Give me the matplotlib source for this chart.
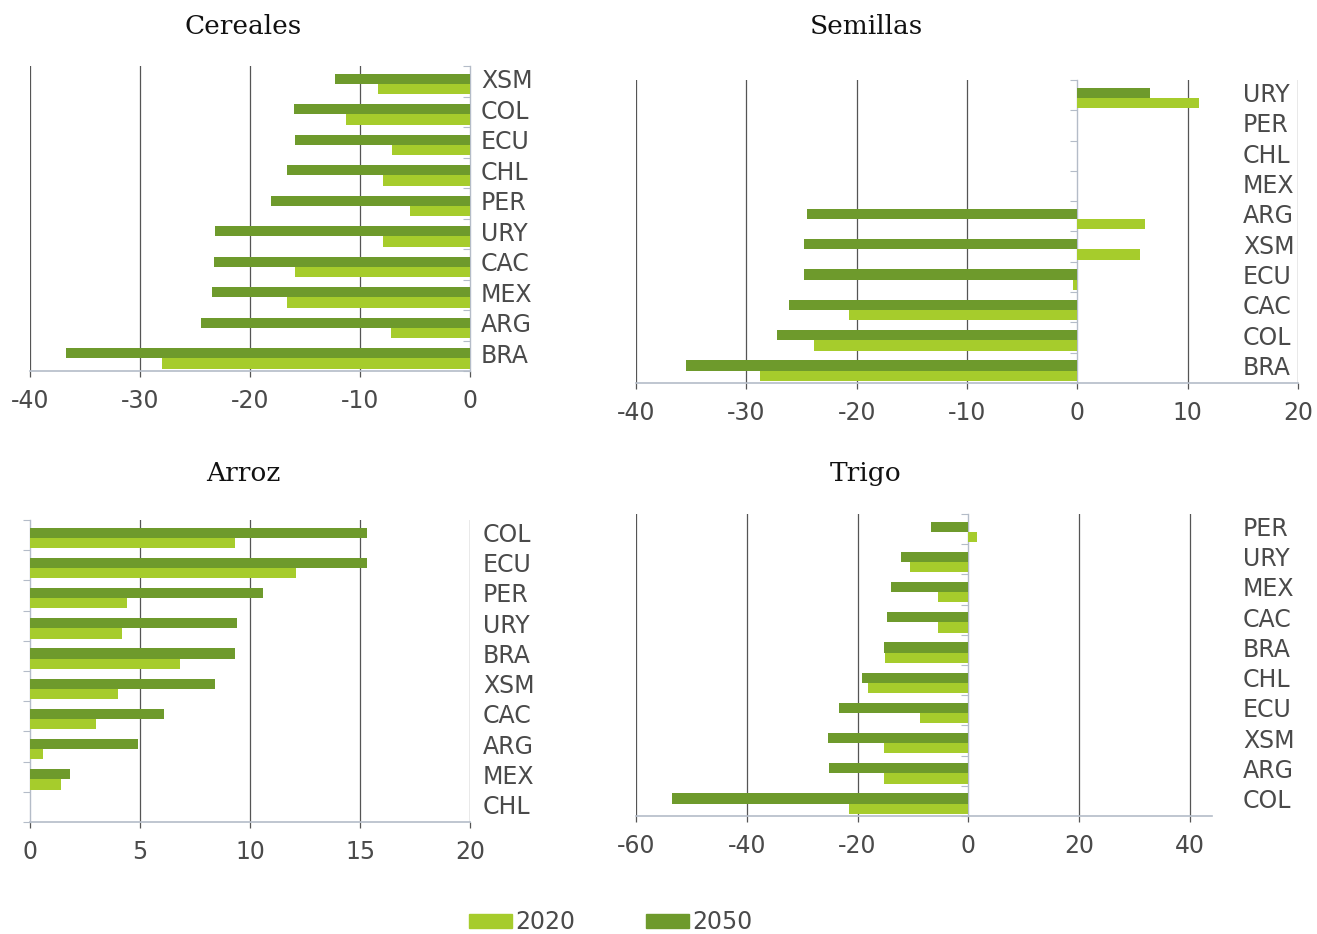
import numpy as np
import matplotlib
matplotlib.use("Agg")
import matplotlib.pyplot as plt
from matplotlib.patches import Patch
from matplotlib.transforms import blended_transform_factory

# ---------------- data ----------------
cereales_cats = ["XSM", "COL", "ECU", "CHL", "PER", "URY", "CAC", "MEX", "ARG", "BRA"]
cereales_2050 = [-12.3, -16.0, -15.9, -16.6, -18.1, -23.2, -23.3, -23.5, -24.5, -36.7]
cereales_2020 = [-8.4, -11.3, -7.1, -7.9, -5.5, -7.9, -15.9, -16.6, -7.2, -28.0]
cereales_ticks = [-40, -30, -20, -10, 0]

semillas_cats = ["URY", "PER", "CHL", "MEX", "ARG", "XSM", "ECU", "CAC", "COL", "BRA"]
semillas_2050 = [6.6, 0.0, 0.0, 0.0, -24.5, -24.8, -24.8, -26.1, -27.2, -35.5]
semillas_2020 = [11.0, 0.0, 0.0, 0.0, 6.1, 5.7, -0.4, -20.7, -23.9, -28.8]
semillas_ticks = [-40, -30, -20, -10, 0, 10, 20]

arroz_cats = ["COL", "ECU", "PER", "URY", "BRA", "XSM", "CAC", "ARG", "MEX", "CHL"]
arroz_2050 = [15.3, 15.3, 10.6, 9.4, 9.3, 8.4, 6.1, 4.9, 1.8, 0.0]
arroz_2020 = [9.3, 12.1, 4.4, 4.2, 6.8, 4.0, 3.0, 0.6, 1.4, 0.0]
arroz_ticks = [0, 5, 10, 15, 20]

trigo_cats = ["PER", "URY", "MEX", "CAC", "BRA", "CHL", "ECU", "XSM", "ARG", "COL"]
trigo_2050 = [-6.8, -12.2, -14.0, -14.7, -15.3, -19.2, -23.4, -25.4, -25.2, -53.5]
trigo_2020 = [1.5, -10.6, -5.4, -5.4, -15.1, -18.2, -8.7, -15.3, -15.3, -21.5]
trigo_ticks = [-60, -40, -20, 0, 20, 40]

years = ["2020", "2050"]

# ---------------- style ----------------
W, H = 1317, 934
C2020 = "#a6cc2c"
C2050 = "#6e9a2c"
GRID = "#555555"
AXIS = "#b4bcc8"
TXT = "#4a4a4a"
FS = 17

fig = plt.figure(figsize=(W / 100, H / 100), dpi=100)
fig.patch.set_facecolor("white")


def panel(box, xlim, ticks, cats, v2050, v2020, title, title_xy, label_x):
    l, r, t, b = box
    ax = fig.add_axes([l / W, 1 - b / H, (r - l) / W, (b - t) / H])
    n = len(cats)
    y = np.arange(n)
    h = 0.34
    ax.barh(y - 0.08, v2050, height=h, color=C2050, zorder=3)
    ax.barh(y + 0.26, v2020, height=h, color=C2020, zorder=3)
    ax.set_xlim(*xlim)
    ax.set_ylim(n - 0.5, -0.5)
    for tv in ticks:
        if tv != 0:
            ax.axvline(tv, color=GRID, lw=0.9, zorder=1)
    for s in ["top", "right"]:
        ax.spines[s].set_visible(False)
    ax.spines["bottom"].set_color(AXIS)
    ax.spines["bottom"].set_linewidth(1.2)
    ax.spines["left"].set_position(("data", 0))
    ax.spines["left"].set_color(AXIS)
    ax.spines["left"].set_linewidth(1.0)
    ax.spines["left"].set_zorder(2)
    ax.set_yticks(np.arange(n + 1) - 0.5)
    ax.set_yticklabels([])
    ax.tick_params(axis="y", length=5, color=AXIS, direction="out")
    ax.set_xticks(ticks)
    ax.set_xticklabels([str(tv) for tv in ticks])
    ax.tick_params(axis="x", length=4, color=GRID, width=0.9, pad=9,
                   labelsize=FS, labelcolor=TXT)
    tr = blended_transform_factory(fig.transFigure, ax.transData)
    for i, c in enumerate(cats):
        ax.text(label_x / W, i, c, transform=tr, ha="left", va="center",
                fontsize=FS, color=TXT)
    fig.text(title_xy[0] / W, 1 - title_xy[1] / H, title, ha="center",
             va="center", fontsize=19, family="DejaVu Serif", color="#111111")
    return ax


panel((30, 470, 66, 371), (-40, 0), cereales_ticks, cereales_cats,
      cereales_2050, cereales_2020, "Cereales", (243, 27), 481)
panel((636, 1298, 80, 383), (-40, 20), semillas_ticks, semillas_cats,
      semillas_2050, semillas_2020, "Semillas", (866, 27), 1243)
panel((30, 470, 520, 822), (0, 20), arroz_ticks, arroz_cats,
      arroz_2050, arroz_2020, "Arroz", (243, 474), 483)
panel((636, 1212, 514, 816), (-60, 44), trigo_ticks, trigo_cats,
      trigo_2050, trigo_2020, "Trigo", (866, 474), 1243)

handles = [Patch(color=C2020, label=years[0]), Patch(color=C2050, label=years[1])]
fig.legend(handles=handles, loc="center", bbox_to_anchor=(611 / W, 1 - 922 / H),
           ncol=2, frameon=False, fontsize=FS, labelcolor=TXT,
           handlelength=1.8, handleheight=0.55, handletextpad=0.15,
           columnspacing=3.0)

fig.savefig("out.png", dpi=100, facecolor="white")
